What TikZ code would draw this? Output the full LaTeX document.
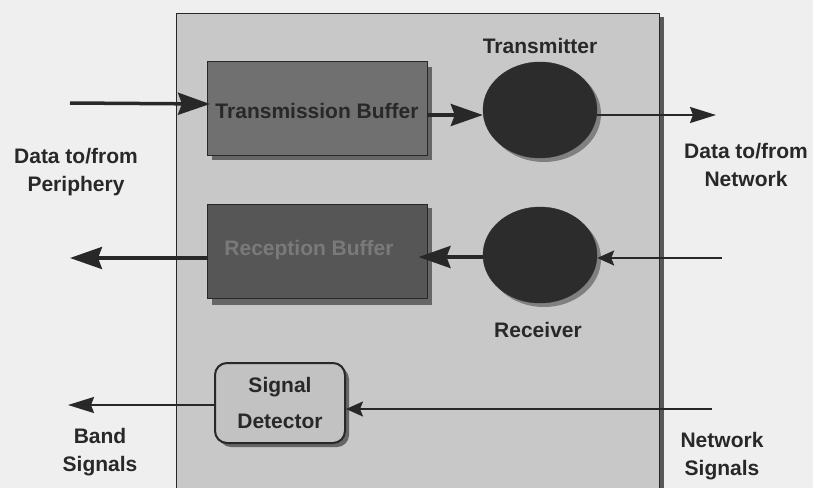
\documentclass[tikz,border=0pt]{standalone}
\usepackage{fontspec}
\setmainfont{Liberation Sans}
\usetikzlibrary{arrows.meta,shapes.geometric}
\definecolor{pagebg}{HTML}{EFEFEF}
\definecolor{panel}{HTML}{C8C8C8}
\definecolor{txbuf}{HTML}{707070}
\definecolor{rxbuf}{HTML}{565656}
\definecolor{disc}{HTML}{2C2C2C}
\definecolor{ink}{HTML}{282828}
\definecolor{sdfill}{HTML}{C2C2C2}
\tikzset{
  x=1pt, y=-1pt,
  lbl/.style={font=\bfseries\fontsize{21}{28}\selectfont, text=ink, align=center, inner sep=0pt},
  buf/.style={draw=ink, line width=1pt, minimum width=220pt, minimum height=94pt, inner sep=0pt},
  buftext/.style={font=\bfseries\fontsize{21}{26}\selectfont, inner sep=0pt},
  unit/.style={ellipse, fill=disc, draw=disc, minimum width=114pt, minimum height=96pt, inner sep=0pt},
  detect/.style={draw=ink, line width=2pt, rounded corners=12pt, fill=sdfill, minimum width=130pt,
    minimum height=80pt, align=center, inner sep=0pt, font=\bfseries\fontsize{21}{36}\selectfont, text=ink},
  bold flow/.style={draw=ink, line width=3.5pt, -{Stealth[length=32pt,width=22pt,inset=4pt]}},
  flow/.style={draw=ink, line width=2pt, -{Stealth[length=26pt,width=16pt,inset=3pt]}},
  short flow/.style={draw=ink, line width=2pt, -{Stealth[length=17pt,width=15pt,inset=3pt]}},
  shade/.style={fill=black!60, draw=none}
}
\begin{document}
\begin{tikzpicture}
  % page and the shaded interface panel
  \fill[pagebg] (0,0) rectangle (813,488);
  \useasboundingbox (0,0) rectangle (813,488);
  \fill[black!65] (180,17) rectangle (664,488);
  \fill[panel] (176,13) rectangle (659,488);
  \draw[ink, line width=1pt] (176,488) -- (176,13) -- (659,13) -- (659,488);

  % drop shadows
  \fill[shade] (212,67) rectangle (432,160);
  \fill[shade] (212,208) rectangle (432,305);
  \fill[black!50] (544,114) ellipse (57pt and 48pt);
  \fill[black!50] (544,259) ellipse (57pt and 48pt);
  \fill[black!60, rounded corners=12pt] (219,367) rectangle (349,447);

  % functional blocks
  \node[buf, fill=txbuf] (tb) at (317,108) {};
  \node[buf, fill=rxbuf] (rb) at (317,251) {};
  \node[buftext, text=ink] (tbt) at (317,111) {Transmission Buffer};
  \node[buftext, text=black!52] (rbt) at (309,250) {Reception Buffer};
  \node[unit] (tx) at (540,110) {};
  \node[unit] (rx) at (540,255) {};
  \node[detect] (sd) at (280,403) {Signal\\Detector};

  \node[lbl, anchor=north] (txl) at (540,38) {Transmitter};
  \node[lbl, anchor=north] (rxl) at (538,322) {Receiver};

  % external labels
  \node[lbl, anchor=north] (per) at (76,148) {Data to/from\\Periphery};
  \node[lbl, anchor=north] (net) at (746,143) {Data to/from\\Network};
  \node[lbl, anchor=north] (band) at (100,428) {Band\\Signals};
  \node[lbl, anchor=north] (nsig) at (722,432) {Network\\Signals};

  % end points of the external lines
  \coordinate (inL) at (70,103);
  \coordinate (inTip) at (210,104);
  \coordinate (outR) at (716,115);
  \coordinate (inR) at (722,258);
  \coordinate (outL) at (70,258);
  \coordinate (sigR) at (712,409);
  \coordinate (sigL) at (68,405);

  % transmit path
  \draw[bold flow] (inL) -- (inTip);
  \draw[bold flow] (tb.east |- 0,115) -- (tx.west |- 0,115);
  \draw[flow] (tx.east |- 0,115) -- (outR);

  % receive path
  \draw[short flow] (inR) -- (rx.east |- inR);
  \draw[bold flow] (rx.west |- 0,257) -- ([xshift=-9pt]rb.east |- 0,257);
  \draw[bold flow] (rb.west |- 0,258) -- (outL);

  % signal detection
  \draw[short flow] (sigR) -- (sd.east |- sigR);
  \draw[flow] (sd.west |- sigL) -- (sigL);
\end{tikzpicture}
\end{document}
